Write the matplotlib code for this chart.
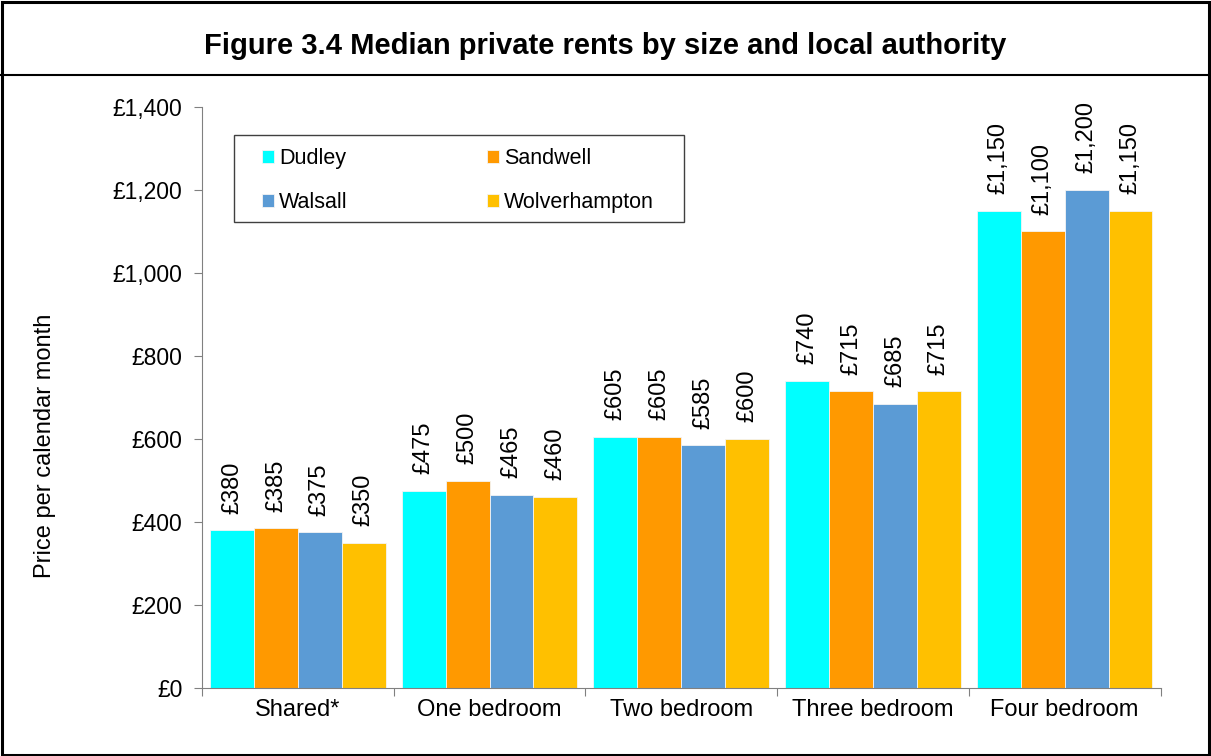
import matplotlib.pyplot as plt
import numpy as np
from matplotlib.patches import Rectangle
from matplotlib.lines import Line2D

plt.rcParams['font.family'] = ['Liberation Sans', 'DejaVu Sans']

categories = ["Shared*", "One bedroom", "Two bedroom", "Three bedroom", "Four bedroom"]
areas = ["Dudley", "Sandwell", "Walsall", "Wolverhampton"]
dudley = [380, 475, 605, 740, 1150]
sandwell = [385, 500, 605, 715, 1100]
walsall = [375, 465, 585, 685, 1200]
wolverhampton = [350, 460, 600, 715, 1150]
colors = ["#00FFFF", "#FF9900", "#5B9BD5", "#FFC000"]

series = [dudley, sandwell, walsall, wolverhampton]

fig = plt.figure(figsize=(12.11, 7.56), dpi=100)
ax = fig.add_axes([0.1668, 0.0899, 0.7915, 0.7686])

x = np.arange(len(categories))
w = 0.229
handles = []
for i, (vals, name) in enumerate(zip(series, areas)):
    pos = x + (i - 1.5) * w
    bars = ax.bar(pos, vals, w, color=colors[i], label=name,
                  edgecolor="#f4f4f4", linewidth=0.6)
    handles.append(bars)
    for xp, v in zip(pos, vals):
        ax.annotate(f"£{v:,}", (xp, v), xytext=(0, 12), textcoords="offset points",
                    rotation=90, ha="center", va="bottom", fontsize=17)

ax.set_xlim(-0.5, len(categories) - 0.5)
ax.set_ylim(0, 1400)
ax.set_yticks(np.arange(0, 1401, 200))
ax.set_yticklabels([f"£{t:,}" for t in range(0, 1401, 200)])
ax.set_xticks(np.arange(-0.5, len(categories), 1))
ax.set_xticklabels([])
ax.set_xticks(x, minor=True)
ax.set_xticklabels(categories, minor=True)
ax.tick_params(axis="x", which="minor", length=0, labelsize=17, pad=8)
ax.tick_params(axis="x", which="major", length=6, color="#808080", direction="out")
ax.tick_params(axis="y", length=6, color="#808080", labelsize=16.5, pad=8)
for s in ["top", "right"]:
    ax.spines[s].set_visible(False)
for s in ["left", "bottom"]:
    ax.spines[s].set_color("#808080")

# legend box drawn separately, entries row-wise: Dudley, Sandwell / Walsall, Wolverhampton
ax.add_patch(Rectangle((0.0334, 0.802), 0.4696, 0.150, transform=ax.transAxes,
                       fill=False, edgecolor="#404040", linewidth=1.0, zorder=5))
order = [0, 2, 1, 3]
leg = ax.legend([handles[k] for k in order], [areas[k] for k in order],
                loc="upper left", bbox_to_anchor=(0.0626, 0.930),
                ncol=2, fontsize=15.5, handlelength=0.55,
                handleheight=0.55, handletextpad=0.25, columnspacing=6.45,
                borderaxespad=0, borderpad=0, frameon=False,
                labelspacing=1.1)

fig.text(0.037, 0.41, "Price per calendar month", rotation=90,
         ha="center", va="center", fontsize=17)

fig.text(0.5, 1 - 46 / 756, "Figure 3.4 Median private rents by size and local authority",
         ha="center", va="center", fontsize=21, fontweight="bold")

fig.patches.append(Rectangle((0.002, 0.001), 0.996, 0.997, transform=fig.transFigure,
                             fill=False, edgecolor="black", linewidth=2.2))
fig.lines.append(Line2D([0, 1], [1 - 75 / 756, 1 - 75 / 756], transform=fig.transFigure,
                        color="black", linewidth=1.5))

fig.savefig("out.png", dpi=100)
